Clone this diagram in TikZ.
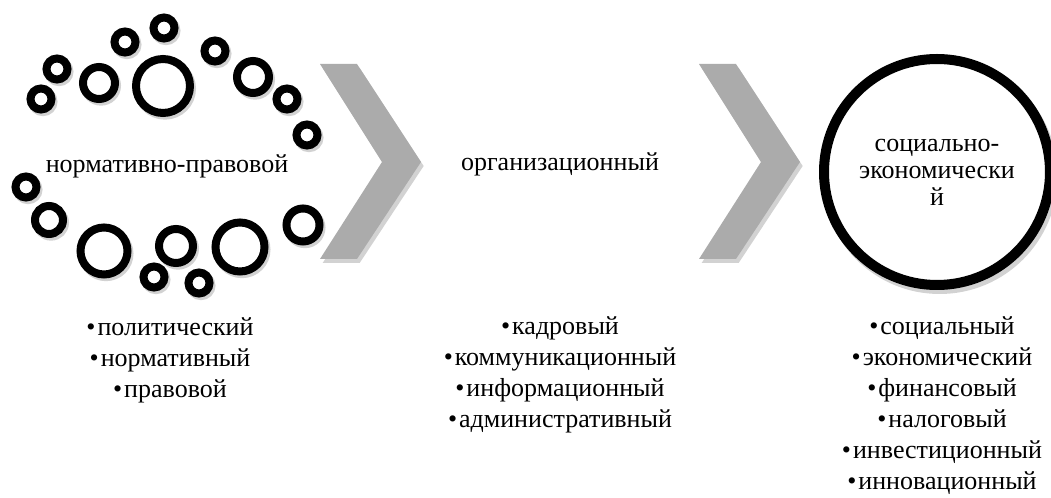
\documentclass[tikz,border=0pt]{standalone}
\usepackage{fontspec}
\setmainfont{Liberation Serif}
\usetikzlibrary{positioning}
\definecolor{chevrongray}{HTML}{ABABAB}
\definecolor{shadowgray}{HTML}{D2D2D2}
\newcommand{\itm}{\textbullet\hspace{1.5pt}}

\begin{document}
\begin{tikzpicture}[
    x=0.75pt,
    y=-0.75pt,
    ring/.style={
        draw=black,
        fill=white,
        line width=6pt,
        preaction={draw=shadowgray, line width=6pt, transform canvas={shift={(1.5pt,-2pt)}}}
    },
    bigring/.style={
        circle,
        minimum size=169.5pt,
        inner sep=0pt,
        align=center,
        font=\fontsize{19.5}{20.25}\selectfont,
        draw=black,
        fill=white,
        line width=7.5pt,
        preaction={draw=shadowgray, line width=7.5pt, transform canvas={shift={(2pt,-3pt)}}}
    },
    chevron/.style={
        fill=chevrongray,
        preaction={fill=shadowgray, transform canvas={shift={(2pt,-3pt)}}}
    },
    label/.style={
        inner sep=0pt,
        font=\fontsize{19.5}{23.25}\selectfont
    },
    itemlist/.style={
        inner sep=0pt,
        align=center,
        font=\fontsize{19.5}{23.25}\selectfont
    }
]
\useasboundingbox (0,0) rectangle (1051,498);
\clip (0,0) rectangle (1051,498);

% Ring of small circles round the first label
\foreach \cx/\cy/\r in {41/99/10.5, 57/69/10.5, 99/83/16, 125/42/10.5, 164/28/10.5,
    163/86/27, 215/51/10.5, 253/77/16, 287/99/10.5, 307/135/10.5,
    26/187/10.5, 49/220/14, 104/251/23.5, 176/246/17, 154/277/10.5,
    199/283/10.5, 240/247/24.5, 303/225/16.5}
    \draw[ring] (\cx,\cy) circle (\r);

% Chevrons
\foreach \cx in {320, 699}
    \fill[chevron] (\cx,64) -- ++(37,0) -- ++(64,98) -- ++(-64,97) -- ++(-37,0) -- ++(62,-97) -- cycle;

% Levels
\node[label] (normlegal) at (167,166) {нормативно-правовой};
\node[label] (organiz) at (560,164) {организационный};
\node[bigring] (socecon) at (937,172) {социально-\\экономически\\й};

% Lists under each level
\node[itemlist] (normlist) at (170,360) {\itm политический\\\itm нормативный\\\itm правовой};
\node[itemlist] (orglist) at (560,375) {\itm кадровый\\\itm коммуникационный\\\itm информационный\\\itm административный};
\node[itemlist] (soclist) at (942,406) {\itm социальный\\\itm экономический\\\itm финансовый\\\itm налоговый\\\itm инвестиционный\\\itm инновационный};

\end{tikzpicture}
\end{document}
